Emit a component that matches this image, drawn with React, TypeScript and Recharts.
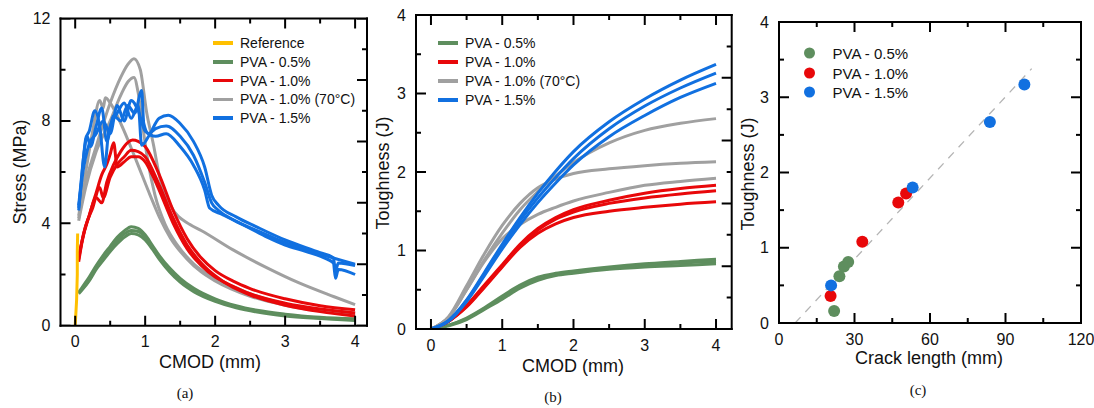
import React from 'react';
import { ComposedChart, Line, XAxis, YAxis, Scatter, ReferenceLine } from 'recharts';

type P = [number, number];

// ---------- Panel (a): Stress vs CMOD ----------
const aRef: P[] = [[0.0, 0], [0.02, 1.0], [0.03, 2.0], [0.03, 2.9], [0.035, 3.6]];
const aGreen1: P[] = [[0.05, 1.3], [0.1, 1.5], [0.2, 1.9], [0.3, 2.35], [0.4, 2.75], [0.5, 3.1], [0.6, 3.45], [0.7, 3.7], [0.8, 3.87], [0.9, 3.8], [1.0, 3.55], [1.1, 3.15], [1.2, 2.75], [1.35, 2.25], [1.5, 1.85], [1.7, 1.45], [2.0, 1.05], [2.3, 0.78], [2.6, 0.6], [3.0, 0.45], [3.5, 0.33], [4.0, 0.27]];
const aGreen2: P[] = [[0.05, 1.25], [0.1, 1.4], [0.2, 1.75], [0.3, 2.2], [0.4, 2.55], [0.5, 2.9], [0.6, 3.2], [0.7, 3.45], [0.8, 3.6], [0.9, 3.55], [1.0, 3.35], [1.1, 3.0], [1.2, 2.6], [1.35, 2.1], [1.5, 1.7], [1.7, 1.32], [2.0, 0.95], [2.3, 0.7], [2.6, 0.53], [3.0, 0.38], [3.5, 0.28], [4.0, 0.2]];
const aGreen3: P[] = [[0.05, 1.28], [0.1, 1.45], [0.2, 1.82], [0.3, 2.28], [0.4, 2.65], [0.5, 3.0], [0.6, 3.32], [0.7, 3.58], [0.8, 3.72], [0.9, 3.68], [1.0, 3.45], [1.1, 3.08], [1.2, 2.68], [1.35, 2.18], [1.5, 1.78], [1.7, 1.38], [2.0, 1.0], [2.3, 0.74], [2.6, 0.57], [3.0, 0.42], [3.5, 0.3], [4.0, 0.23]];
const aRed1: P[] = [[0.05, 2.5], [0.1, 3.3], [0.2, 4.3], [0.3, 5.2], [0.38, 5.9], [0.45, 6.3], [0.5, 6.7], [0.55, 7.15], [0.6, 6.2], [0.7, 6.4], [0.8, 6.6], [0.9, 6.6], [1.0, 6.4], [1.1, 5.9], [1.2, 5.3], [1.4, 4.0], [1.6, 3.0], [1.8, 2.35], [2.0, 1.9], [2.25, 1.55], [2.5, 1.25], [3.0, 0.88], [3.5, 0.65], [4.0, 0.5]];
const aRed2: P[] = [[0.05, 2.6], [0.12, 3.6], [0.2, 4.3], [0.3, 5.0], [0.38, 4.8], [0.45, 5.6], [0.55, 6.3], [0.65, 6.8], [0.75, 7.15], [0.82, 7.25], [0.9, 7.2], [1.0, 7.0], [1.2, 5.9], [1.4, 4.5], [1.6, 3.4], [1.8, 2.65], [2.0, 2.15], [2.25, 1.75], [2.5, 1.45], [3.0, 1.05], [3.5, 0.78], [4.0, 0.62]];
const aRed3: P[] = [[0.05, 2.7], [0.15, 3.9], [0.25, 4.6], [0.35, 5.4], [0.4, 5.0], [0.5, 5.8], [0.6, 6.3], [0.7, 6.6], [0.8, 6.85], [0.9, 6.8], [1.0, 6.6], [1.2, 5.5], [1.4, 4.2], [1.6, 3.15], [1.8, 2.45], [2.0, 1.95], [2.25, 1.5], [2.5, 1.2], [3.0, 0.8], [3.5, 0.55], [4.0, 0.38]];
const aGrey1: P[] = [[0.05, 4.2], [0.15, 5.6], [0.3, 7.0], [0.5, 8.7], [0.65, 9.7], [0.75, 10.2], [0.84, 10.43], [0.93, 10.0], [1.02, 8.35], [1.12, 7.05], [1.21, 5.77], [1.36, 4.71], [1.64, 3.95], [1.8, 3.72], [2.25, 2.97], [2.75, 2.25], [3.2, 1.67], [3.7, 1.13], [4.0, 0.82]];
const aGrey2: P[] = [[0.05, 4.1], [0.15, 5.4], [0.3, 6.8], [0.5, 8.0], [0.65, 9.0], [0.76, 9.55], [0.84, 9.7], [0.9, 9.1], [0.97, 7.7], [1.04, 6.4], [1.14, 5.1], [1.29, 3.93], [1.46, 3.15], [1.7, 2.4], [2.0, 1.85], [2.26, 1.52], [2.6, 1.15], [3.0, 0.85], [3.5, 0.62], [4.0, 0.5]];
const aGrey3: P[] = [[0.05, 4.3], [0.15, 6.0], [0.25, 7.6], [0.35, 8.8], [0.4, 8.5], [0.43, 8.9], [0.5, 8.7], [0.6, 8.2], [0.7, 7.6], [0.88, 6.4], [1.07, 5.1], [1.21, 4.2], [1.36, 3.43], [1.6, 2.6], [1.8, 2.1], [2.0, 1.75], [2.5, 1.15], [3.0, 0.8], [3.5, 0.58], [4.0, 0.45]];
const aBlue1: P[] = [[0.05, 4.7], [0.08, 5.5], [0.12, 6.6], [0.17, 7.4], [0.22, 7.0], [0.3, 7.8], [0.38, 8.5], [0.45, 7.2], [0.55, 8.2], [0.65, 8.0], [0.75, 8.6], [0.85, 8.3], [0.95, 9.19], [0.98, 7.9], [1.05, 7.5], [1.15, 7.7], [1.3, 7.8], [1.5, 7.4], [1.69, 6.66], [1.85, 5.6], [1.95, 4.8], [2.05, 4.5], [2.25, 4.15], [2.5, 3.8], [2.75, 3.45], [3.0, 3.15], [3.3, 2.9], [3.6, 2.6], [3.69, 2.45], [3.72, 1.85], [3.76, 2.2], [4.0, 2.0]];
const aBlue2: P[] = [[0.05, 4.5], [0.1, 6.0], [0.15, 7.3], [0.2, 7.6], [0.28, 8.4], [0.35, 7.8], [0.42, 6.2], [0.48, 7.6], [0.6, 8.3], [0.7, 8.7], [0.8, 8.1], [0.9, 8.6], [0.95, 7.05], [1.05, 7.4], [1.2, 8.1], [1.33, 8.22], [1.5, 7.9], [1.69, 7.2], [1.85, 6.2], [1.95, 5.1], [2.05, 4.7], [2.3, 4.25], [2.6, 3.85], [3.0, 3.35], [3.5, 2.85], [3.69, 2.65], [3.72, 2.15], [3.76, 2.45], [4.0, 2.35]];
const aBlue3: P[] = [[0.05, 4.6], [0.1, 5.8], [0.2, 7.1], [0.3, 7.5], [0.4, 8.0], [0.5, 7.5], [0.6, 8.6], [0.7, 8.0], [0.8, 8.8], [0.9, 8.4], [1.0, 7.6], [1.15, 7.4], [1.3, 7.5], [1.5, 7.0], [1.69, 6.27], [1.85, 5.3], [1.92, 4.6], [2.1, 4.35], [2.4, 3.95], [2.7, 3.6], [3.0, 3.25], [3.5, 2.8], [4.0, 2.4]];

// ---------- Panel (b): Toughness vs CMOD ----------
const bGreen1: P[] = [[0, 0], [0.25, 0.05], [0.5, 0.14], [0.75, 0.27], [1.0, 0.42], [1.25, 0.56], [1.5, 0.66], [1.75, 0.71], [2.0, 0.74], [2.5, 0.79], [3.0, 0.83], [3.5, 0.86], [4.0, 0.89]];
const bGreen2: P[] = [[0, 0], [0.25, 0.05], [0.5, 0.13], [0.75, 0.26], [1.0, 0.4], [1.25, 0.54], [1.5, 0.64], [1.75, 0.69], [2.0, 0.72], [2.5, 0.77], [3.0, 0.81], [3.5, 0.84], [4.0, 0.86]];
const bGreen3: P[] = [[0, 0], [0.25, 0.04], [0.5, 0.12], [0.75, 0.25], [1.0, 0.38], [1.25, 0.52], [1.5, 0.62], [1.75, 0.68], [2.0, 0.71], [2.5, 0.76], [3.0, 0.79], [3.5, 0.81], [4.0, 0.83]];
const bRed1: P[] = [[0, 0], [0.25, 0.1], [0.5, 0.3], [0.75, 0.56], [1.0, 0.82], [1.25, 1.08], [1.5, 1.28], [1.75, 1.42], [2.0, 1.52], [2.5, 1.64], [3.0, 1.73], [3.5, 1.79], [4.0, 1.83]];
const bRed2: P[] = [[0, 0], [0.25, 0.1], [0.5, 0.29], [0.75, 0.54], [1.0, 0.8], [1.25, 1.06], [1.5, 1.26], [1.75, 1.4], [2.0, 1.49], [2.5, 1.6], [3.0, 1.67], [3.5, 1.72], [4.0, 1.76]];
const bRed3: P[] = [[0, 0], [0.25, 0.1], [0.5, 0.28], [0.75, 0.53], [1.0, 0.79], [1.25, 1.04], [1.5, 1.22], [1.75, 1.34], [2.0, 1.42], [2.5, 1.5], [3.0, 1.55], [3.5, 1.59], [4.0, 1.62]];
const bGrey1: P[] = [[0, 0], [0.25, 0.15], [0.5, 0.5], [0.75, 0.88], [1.0, 1.22], [1.25, 1.52], [1.5, 1.75], [1.75, 1.95], [2.0, 2.12], [2.5, 2.37], [3.0, 2.53], [3.5, 2.62], [4.0, 2.68]];
const bGrey2: P[] = [[0, 0], [0.25, 0.16], [0.5, 0.55], [0.75, 0.96], [1.0, 1.32], [1.25, 1.6], [1.5, 1.8], [1.75, 1.91], [2.0, 1.98], [2.5, 2.04], [3.0, 2.08], [3.5, 2.11], [4.0, 2.13]];
const bGrey3: P[] = [[0, 0], [0.25, 0.15], [0.5, 0.5], [0.75, 0.86], [1.0, 1.15], [1.25, 1.33], [1.5, 1.46], [1.75, 1.55], [2.0, 1.63], [2.5, 1.74], [3.0, 1.83], [3.5, 1.88], [4.0, 1.92]];
const bBlue1: P[] = [[0, 0], [0.25, 0.11], [0.5, 0.37], [0.75, 0.72], [1.0, 1.08], [1.25, 1.42], [1.5, 1.73], [1.75, 2.01], [2.0, 2.26], [2.5, 2.64], [3.0, 2.93], [3.5, 3.17], [4.0, 3.37]];
const bBlue2: P[] = [[0, 0], [0.25, 0.11], [0.5, 0.36], [0.75, 0.7], [1.0, 1.05], [1.25, 1.38], [1.5, 1.67], [1.75, 1.93], [2.0, 2.17], [2.5, 2.55], [3.0, 2.84], [3.5, 3.07], [4.0, 3.26]];
const bBlue3: P[] = [[0, 0], [0.25, 0.1], [0.5, 0.35], [0.75, 0.68], [1.0, 1.02], [1.25, 1.33], [1.5, 1.61], [1.75, 1.86], [2.0, 2.09], [2.5, 2.45], [3.0, 2.72], [3.5, 2.95], [4.0, 3.13]];

// ---------- Panel (c): Toughness vs crack length ----------
const cGreen: P[] = [[21.9, 0.16], [24.0, 0.62], [25.8, 0.75], [27.5, 0.81]];
const cRed: P[] = [[20.5, 0.36], [33.1, 1.08], [47.4, 1.6], [50.5, 1.72]];
const cBlue: P[] = [[20.7, 0.5], [53.1, 1.8], [83.8, 2.67], [97.5, 3.17]];
const cFit: P[] = [[6.4, 0], [100.4, 3.38]];

// ---------- Ticks / labels ----------
const cmodTicks = [0, 0.5, 1, 1.5, 2, 2.5, 3, 3.5, 4];
const stressTicks = [0, 2, 4, 6, 8, 10, 12];
const toughTicks = [0, 0.5, 1, 1.5, 2, 2.5, 3, 3.5, 4];
const rightTicks = [0, 1, 2, 3, 4, 5, 6, 7, 8, 9, 10];
const crackTicks = [0, 15, 30, 45, 60, 75, 90, 105, 120];

const legendA = ['Reference', 'PVA - 0.5%', 'PVA - 1.0%', 'PVA - 1.0% (70°C)', 'PVA - 1.5%'];
const legendB = ['PVA - 0.5%', 'PVA - 1.0%', 'PVA - 1.0% (70°C)', 'PVA - 1.5%'];
const legendC = ['PVA - 0.5%', 'PVA - 1.0%', 'PVA - 1.5%'];

const C_REF = '#FFC000';
const C_GREEN = '#5E8E5E';
const C_RED = '#E8080A';
const C_GREY = '#A0A0A0';
const C_BLUE = '#1170E0';

const FONT = '"Liberation Sans", Arial, Helvetica, sans-serif';
const toXY = (a: P[]) => a.map(([x, y]) => ({ x, y }));

const W = 1094, H = 408;
const MAJOR = 10; // px
const MINOR = 5; // px
const YAW = 40, XAH = 30; // axis sizes

type Side = 'bottom' | 'left';
function labelRenderer(side: Side, isMajor: (v: number) => boolean) {
  return (props: any) => {
    const x = Number(props.x);
    const y = Number(props.y);
    const v = Number(props.payload?.value);
    if (!isMajor(v)) return <g />;
    return (
      <text x={side === 'left' ? x - 10 : x} y={side === 'bottom' ? y + 16 : y} textAnchor={side === 'left' ? 'end' : 'middle'} dominantBaseline="central" fontSize={16} fontFamily={FONT} fill="#111">{String(v)}</text>
    );
  };
}

type Margin = { left: number; right: number; top: number; bottom: number };
type Seg = { x: number; y: number }[];
// Build inward tick-mark segments (in data units) from the tick lists and the plot geometry.
function frameSegments(m: Margin, xd: [number, number], yd: [number, number], xTicks: number[], xMajor: (v: number) => boolean, yTicks: number[], yMajor: (v: number) => boolean, rd: [number, number] | null, rTicks: number[] | null, rMajor: (v: number) => boolean) {
  const pw = W - m.left - m.right - YAW - 1;
  const ph = H - m.top - m.bottom - XAH - 1;
  const ux = (xd[1] - xd[0]) / pw;
  const uy = (yd[1] - yd[0]) / ph;
  const left: Seg[] = [], right: Seg[] = [];
  const bottom: Seg[] = [], top: Seg[] = [];
  xTicks.forEach((v) => {
    const l = (xMajor(v) ? MAJOR : MINOR) * uy;
    bottom.push([{ x: v, y: yd[0] }, { x: v, y: yd[0] + l }]);
    top.push([{ x: v, y: yd[1] }, { x: v, y: yd[1] - l }]);
  });
  yTicks.forEach((v) => {
    const l = (yMajor(v) ? MAJOR : MINOR) * ux;
    left.push([{ x: xd[0], y: v }, { x: xd[0] + l, y: v }]);
    if (!rTicks) right.push([{ x: xd[1], y: v }, { x: xd[1] - l, y: v }]);
  });
  if (rTicks && rd) {
    rTicks.forEach((v) => {
      const l = (rMajor(v) ? MAJOR : MINOR) * ux;
      right.push([{ x: xd[1], y: v }, { x: xd[1] - l, y: v }]);
    });
  }
  return { main: [...bottom, ...top, ...left], right, rightOnOwnAxis: !!rTicks };
}

function tickLines(id: string, segs: ReturnType<typeof frameSegments>) {
  const lp = { dot: false, isAnimationActive: false, xAxisId: 'b', dataKey: 'y', stroke: '#000', strokeWidth: 2, type: 'linear' as const, legendType: 'none' as const };
  return [
    ...segs.main.map((s, i) => <Line key={id + 'm' + i} {...lp} yAxisId="l" data={s} />),
    ...segs.right.map((s, i) => <Line key={id + 'r' + i} {...lp} yAxisId={segs.rightOnOwnAxis ? 'r' : 'l'} data={s} />),
  ];
}

const isInt = (v: number) => Number.isInteger(v);
const isEven = (v: number) => v % 2 === 0;
const by4 = (v: number) => v % 4 === 0;
const by30 = (v: number) => v % 30 === 0;
const AX = { stroke: '#000', strokeWidth: 2, strokeLinecap: 'square' as const };
const common = { tickSize: 0, tickMargin: 0, tickLine: false, axisLine: AX, interval: 0 as const, allowDataOverflow: true };

const abs = (left: number, top: number): React.CSSProperties => ({ position: 'absolute', left, top });

function Title({ x, y, text, rotate, size = 18, serif }: { x: number; y: number; text: string; rotate?: boolean; size?: number; serif?: boolean }) {
  return (
    <div style={{ position: 'absolute', left: x, top: y, transform: `translate(-50%, -50%)${rotate ? ' rotate(-90deg)' : ''}`, whiteSpace: 'nowrap', fontSize: size, fontFamily: serif ? '"Liberation Serif", "Times New Roman", serif' : FONT, color: '#111', lineHeight: 1 }}>
      {text}
    </div>
  );
}

function LineLegend({ x, y, items, colors, step }: { x: number; y: number; items: string[]; colors: string[]; step: number }) {
  return (
    <>
      {items.map((t, i) => (
        <div key={t} style={{ position: 'absolute', left: x, top: y + i * step, transform: 'translateY(-50%)', display: 'flex', alignItems: 'center', whiteSpace: 'nowrap', fontSize: 14, fontFamily: FONT, color: '#111', lineHeight: 1 }}>
          <div style={{ width: 20, height: 3.5, background: colors[i], marginRight: 7 }} />
          <span>{t}</span>
        </div>
      ))}
    </>
  );
}

function DotLegend({ x, y, items, colors, step }: { x: number; y: number; items: string[]; colors: string[]; step: number }) {
  return (
    <>
      {items.map((t, i) => (
        <div key={t} style={{ position: 'absolute', left: x, top: y + i * step, transform: 'translateY(-50%)', display: 'flex', alignItems: 'center', whiteSpace: 'nowrap', fontSize: 15, fontFamily: FONT, color: '#111', lineHeight: 1 }}>
          <div style={{ width: 11, height: 11, borderRadius: '50%', background: colors[i], marginRight: 18 }} />
          <span>{t}</span>
        </div>
      ))}
    </>
  );
}

const dot = (color: string) => (props: any) => <circle cx={props.cx} cy={props.cy} r={6} fill={color} />;

const MA: Margin = { left: 20.5, right: 726, top: 17.5, bottom: 52.3 };
const MB: Margin = { left: 376, right: 361.3, top: 14, bottom: 49 };
const MC: Margin = { left: 739, right: 12, top: 21, bottom: 55 };
const AXD: [number, number] = [-0.21, 4.17];
const BXD: [number, number] = [-0.21, 4.22];

export default function App() {
  const lineProps = { dot: false, isAnimationActive: false, xAxisId: 'b', yAxisId: 'l', dataKey: 'y', strokeWidth: 3, type: 'monotone' as const };
  const segA = frameSegments(MA, AXD, [0, 12], cmodTicks, isInt, stressTicks, by4, [0, 10], rightTicks, isEven);
  const segB = frameSegments(MB, BXD, [0, 4], cmodTicks, isInt, toughTicks, isInt, [0, 10], rightTicks, isEven);
  const segC = frameSegments(MC, [0, 120], [0, 4], crackTicks, by30, toughTicks, isInt, null, null, isInt);
  return (
    <div style={{ position: 'absolute', left: 0, top: 0, width: W, height: H, background: '#fff', overflow: 'hidden' }}>
      {/* Panel (a) */}
      <div style={abs(0, 0)}>
        <ComposedChart width={W} height={H} margin={MA}>
          <XAxis xAxisId="b" type="number" dataKey="x" domain={AXD} ticks={cmodTicks} orientation="bottom" height={XAH} {...common} tick={labelRenderer('bottom', isInt)} />
          <XAxis xAxisId="t" type="number" dataKey="x" domain={AXD} ticks={cmodTicks} orientation="top" height={1} {...common} tick={false} />
          <YAxis yAxisId="l" type="number" dataKey="y" domain={[0, 12]} ticks={stressTicks} width={YAW} {...common} tick={labelRenderer('left', by4)} />
          <YAxis yAxisId="r" type="number" dataKey="y" orientation="right" domain={[0, 10]} ticks={rightTicks} width={1} {...common} tick={false} />
          <Line {...lineProps} data={toXY(aGrey1)} stroke={C_GREY} />
          <Line {...lineProps} data={toXY(aGrey2)} stroke={C_GREY} />
          <Line {...lineProps} data={toXY(aGrey3)} stroke={C_GREY} />
          <Line {...lineProps} data={toXY(aGreen1)} stroke={C_GREEN} />
          <Line {...lineProps} data={toXY(aGreen2)} stroke={C_GREEN} />
          <Line {...lineProps} data={toXY(aGreen3)} stroke={C_GREEN} />
          <Line {...lineProps} data={toXY(aRed1)} stroke={C_RED} />
          <Line {...lineProps} data={toXY(aRed2)} stroke={C_RED} />
          <Line {...lineProps} data={toXY(aRed3)} stroke={C_RED} />
          <Line {...lineProps} data={toXY(aBlue1)} stroke={C_BLUE} />
          <Line {...lineProps} data={toXY(aBlue2)} stroke={C_BLUE} />
          <Line {...lineProps} data={toXY(aBlue3)} stroke={C_BLUE} />
          <Line {...lineProps} type="linear" data={toXY(aRef)} stroke={C_REF} />
          {tickLines('a', segA)}
        </ComposedChart>
      </div>

      {/* Panel (b) */}
      <div style={abs(0, 0)}>
        <ComposedChart width={W} height={H} margin={MB}>
          <XAxis xAxisId="b" type="number" dataKey="x" domain={BXD} ticks={cmodTicks} orientation="bottom" height={XAH} {...common} tick={labelRenderer('bottom', isInt)} />
          <XAxis xAxisId="t" type="number" dataKey="x" domain={BXD} ticks={cmodTicks} orientation="top" height={1} {...common} tick={false} />
          <YAxis yAxisId="l" type="number" dataKey="y" domain={[0, 4]} ticks={toughTicks} width={YAW} {...common} tick={labelRenderer('left', isInt)} />
          <YAxis yAxisId="r" type="number" dataKey="y" orientation="right" domain={[0, 10]} ticks={rightTicks} width={1} {...common} tick={false} />
          <Line {...lineProps} data={toXY(bGreen1)} stroke={C_GREEN} />
          <Line {...lineProps} data={toXY(bGreen2)} stroke={C_GREEN} />
          <Line {...lineProps} data={toXY(bGreen3)} stroke={C_GREEN} />
          <Line {...lineProps} data={toXY(bRed1)} stroke={C_RED} />
          <Line {...lineProps} data={toXY(bRed2)} stroke={C_RED} />
          <Line {...lineProps} data={toXY(bRed3)} stroke={C_RED} />
          <Line {...lineProps} data={toXY(bGrey1)} stroke={C_GREY} />
          <Line {...lineProps} data={toXY(bGrey2)} stroke={C_GREY} />
          <Line {...lineProps} data={toXY(bGrey3)} stroke={C_GREY} />
          <Line {...lineProps} data={toXY(bBlue1)} stroke={C_BLUE} />
          <Line {...lineProps} data={toXY(bBlue2)} stroke={C_BLUE} />
          <Line {...lineProps} data={toXY(bBlue3)} stroke={C_BLUE} />
          {tickLines('b', segB)}
        </ComposedChart>
      </div>

      {/* Panel (c) */}
      <div style={abs(0, 0)}>
        <ComposedChart width={W} height={H} margin={MC}>
          <XAxis xAxisId="b" type="number" dataKey="x" domain={[0, 120]} ticks={crackTicks} orientation="bottom" height={XAH} {...common} tick={labelRenderer('bottom', by30)} />
          <XAxis xAxisId="t" type="number" dataKey="x" domain={[0, 120]} ticks={crackTicks} orientation="top" height={1} {...common} tick={false} />
          <YAxis yAxisId="l" type="number" dataKey="y" domain={[0, 4]} ticks={toughTicks} width={YAW} {...common} tick={labelRenderer('left', isInt)} />
          <YAxis yAxisId="r" type="number" dataKey="y" orientation="right" domain={[0, 4]} ticks={toughTicks} width={1} {...common} tick={false} />
          {tickLines('c', segC)}
          <ReferenceLine xAxisId="b" yAxisId="l" segment={toXY(cFit)} stroke="#B4B4B4" strokeWidth={1.3} strokeDasharray="8 7" />
          <Scatter xAxisId="b" yAxisId="l" data={toXY(cGreen)} fill={C_GREEN} shape={dot(C_GREEN)} isAnimationActive={false} />
          <Scatter xAxisId="b" yAxisId="l" data={toXY(cRed)} fill={C_RED} shape={dot(C_RED)} isAnimationActive={false} />
          <Scatter xAxisId="b" yAxisId="l" data={toXY(cBlue)} fill={C_BLUE} shape={dot(C_BLUE)} isAnimationActive={false} />
        </ComposedChart>
      </div>

      {/* Legends */}
      <LineLegend x={213} y={43} step={18.75} items={legendA} colors={[C_REF, C_GREEN, C_RED, C_GREY, C_BLUE]} />
      <LineLegend x={438} y={43} step={19} items={legendB} colors={[C_GREEN, C_RED, C_GREY, C_BLUE]} />
      <DotLegend x={803.5} y={53} step={19.5} items={legendC} colors={[C_GREEN, C_RED, C_BLUE]} />

      {/* Axis titles */}
      <Title x={210} y={362} text="CMOD (mm)" />
      <Title x={20} y={172} text="Stress (MPa)" rotate />
      <Title x={573} y={366} text="CMOD (mm)" />
      <Title x={383} y={173} text="Toughness (J)" rotate />
      <Title x={929} y={358} text="Crack length (mm)" />
      <Title x={748} y={174} text="Toughness (J)" rotate />

      {/* Captions */}
      <Title x={185} y={393} text="(a)" size={15} serif />
      <Title x={553} y={397} text="(b)" size={15} serif />
      <Title x={918} y={390} text="(c)" size={15} serif />
    </div>
  );
}
